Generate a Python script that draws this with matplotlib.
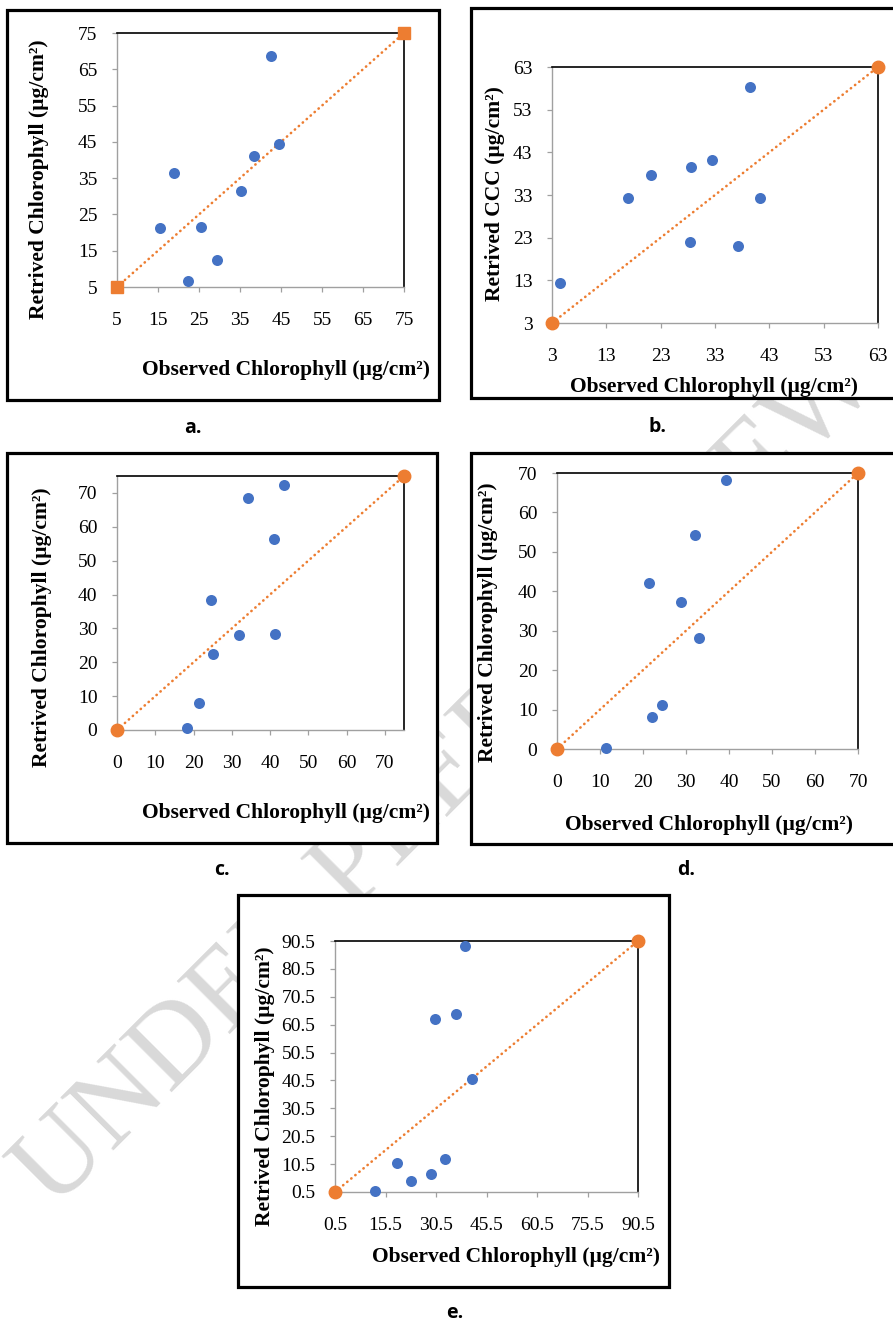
#!/usr/bin/env python3
"""Observed vs retrieved chlorophyll, five scatter panels (a-e) with 1:1 lines."""

import matplotlib

matplotlib.use("Agg")
import matplotlib.pyplot as plt
import numpy as np
from matplotlib.patches import Rectangle
from matplotlib.ticker import FuncFormatter

FIG_W, FIG_H = 893, 1325
DPI = 100

BLUE = "#4472C4"
ORANGE = "#ED7D31"
AXIS_GRAY = "#A0A0A0"
SERIF = "Liberation Serif"

# panel data (observed, retrieved)
A_OBS = [42.5, 44.6, 38.3, 19.0, 35.2, 15.4, 25.5, 29.3, 22.2]
A_RET = [68.6, 44.4, 41.2, 36.5, 31.5, 21.3, 21.6, 12.5, 6.6]
B_OBS = [39.4, 32.4, 28.5, 21.2, 17.0, 41.2, 28.4, 37.2, 4.5]
B_RET = [58.2, 41.1, 39.6, 37.8, 32.4, 32.4, 21.9, 21.1, 12.4]
C_OBS = [43.6, 34.3, 41.0, 24.5, 32.0, 41.2, 25.0, 21.3, 18.4]
C_RET = [72.3, 68.4, 56.4, 38.5, 28.1, 28.3, 22.4, 8.0, 0.5]
D_OBS = [39.4, 32.1, 21.4, 28.8, 33.1, 24.5, 22.2, 11.4]
D_RET = [68.2, 54.2, 42.1, 37.3, 28.1, 11.2, 8.2, 0.25]
E_OBS = [39.2, 36.4, 30.3, 41.3, 33.2, 18.9, 29.1, 23.1, 12.5]
E_RET = [88.6, 64.2, 62.5, 41.1, 12.5, 11.0, 7.1, 4.3, 0.7]

# 1:1 line end points
A_LINE = [5, 75]
B_LINE = [3, 63]
C_LINE = [0, 75]
D_LINE = [0, 70]
E_LINE = [0.5, 90.5]

A_TICKS = np.arange(5, 76, 10)
B_TICKS = np.arange(3, 64, 10)
C_TICKS = np.arange(0, 71, 10)
D_TICKS = np.arange(0, 71, 10)
E_XTICKS = np.arange(0.5, 91, 15)
E_YTICKS = np.arange(0.5, 91, 10)

XLABEL = "Observed Chlorophyll (µg/cm²)"
YLABEL = "Retrived Chlorophyll (µg/cm²)"
YLABEL_B = "Retrived CCC (µg/cm²)"

# layout in pixels: box (l, t, r, b), axes (l, t, r, b), ylabel centre, xlabel right/y, caption
PANELS = [
    dict(obs=A_OBS, ret=A_RET, line=A_LINE, xticks=A_TICKS, yticks=A_TICKS,
         lim=(5, 75), ylabel=YLABEL, end_marker="s",
         box=(7, 10, 439, 400), ax=(117, 33, 404, 287),
         ylab_xy=(39, 179), xlab_xy=(430, 370), cap="a.", cap_xy=(193, 428)),
    dict(obs=B_OBS, ret=B_RET, line=B_LINE, xticks=B_TICKS, yticks=B_TICKS,
         lim=(3, 63), ylabel=YLABEL_B, end_marker="o",
         box=(471, 8, 905, 398), ax=(552, 67, 878, 323),
         ylab_xy=(495, 194), xlab_xy=(858, 387), cap="b.", cap_xy=(657, 427)),
    dict(obs=C_OBS, ret=C_RET, line=C_LINE, xticks=C_TICKS, yticks=C_TICKS,
         lim=(0, 75), ylabel=YLABEL, end_marker="o",
         box=(7, 453, 437, 843), ax=(117, 476, 404, 730),
         ylab_xy=(42, 627), xlab_xy=(430, 813), cap="c.", cap_xy=(222, 870)),
    dict(obs=D_OBS, ret=D_RET, line=D_LINE, xticks=D_TICKS, yticks=D_TICKS,
         lim=(0, 70), ylabel=YLABEL, end_marker="o",
         box=(471, 453, 905, 844), ax=(557, 473, 858, 749),
         ylab_xy=(488, 622), xlab_xy=(853, 825), cap="d.", cap_xy=(686, 870)),
    dict(obs=E_OBS, ret=E_RET, line=E_LINE, xticks=E_XTICKS, yticks=E_YTICKS,
         lim=(0.5, 90.5), ylabel=YLABEL, end_marker="o",
         box=(238, 895, 669, 1287), ax=(335, 941, 638, 1192),
         ylab_xy=(265, 1086), xlab_xy=(660, 1257), cap="e.", cap_xy=(455, 1313)),
]


def fx(px):
    return px / FIG_W


def fy(py):
    return 1 - py / FIG_H


def draw_background(fig):
    # full-figure pixel canvas: watermark first, white framed boxes on top of it
    bg = fig.add_axes([0, 0, 1, 1], zorder=-10)
    bg.set_xlim(0, FIG_W)
    bg.set_ylim(FIG_H, 0)
    bg.axis("off")
    bg.text(448, 777, "UNDER PEER REVIEW", rotation=45, rotation_mode="anchor",
            ha="center", va="center", fontsize=82, color="#D9D9D9", family=SERIF, zorder=1)
    for p in PANELS:
        l, t, r, b = p["box"]
        bg.add_patch(Rectangle((l, t), r - l, b - t, facecolor="white", edgecolor="black",
                               linewidth=2.3, zorder=2, clip_on=False))
    return bg


def draw_panel(fig, p):
    l, t, r, b = p["ax"]
    ax = fig.add_axes([fx(l), fy(b), fx(r) - fx(l), fy(t) - fy(b)])
    ax.patch.set_alpha(0)

    lo, hi = p["lim"]
    ax.set_xlim(lo, hi)
    ax.set_ylim(lo, hi)
    ax.set_xticks(p["xticks"])
    ax.set_yticks(p["yticks"])
    fmt = FuncFormatter(lambda v, _: f"{v:g}")
    ax.xaxis.set_major_formatter(fmt)
    ax.yaxis.set_major_formatter(fmt)
    for lab in ax.get_xticklabels() + ax.get_yticklabels():
        lab.set_fontfamily(SERIF)
        lab.set_fontsize(14)
    ax.tick_params(axis="x", direction="out", length=3.6, width=0.9, color=AXIS_GRAY, pad=14.5)
    ax.tick_params(axis="y", direction="out", length=3.6, width=0.9, color=AXIS_GRAY, pad=10.5)

    for side in ("left", "bottom"):
        ax.spines[side].set_color(AXIS_GRAY)
        ax.spines[side].set_linewidth(1.0)
    for side in ("top", "right"):
        ax.spines[side].set_color("black")
        ax.spines[side].set_linewidth(1.2)

    ax.plot(p["line"], p["line"], color=ORANGE, linewidth=1.9, linestyle=(0, (0.1, 1.9)),
            dash_capstyle="round", zorder=2, clip_on=False)
    ms = 8.4 if p["end_marker"] == "s" else 9.0
    ax.plot(p["line"], p["line"], linestyle="none", marker=p["end_marker"], markersize=ms,
            color=ORANGE, zorder=4, clip_on=False)
    ax.scatter(p["obs"], p["ret"], s=63, color=BLUE, linewidths=0, zorder=3, clip_on=False)

    fig.text(fx(p["ylab_xy"][0]), fy(p["ylab_xy"][1]), p["ylabel"], rotation=90,
             ha="center", va="center", fontsize=15.5, fontweight="bold", family=SERIF)
    fig.text(fx(p["xlab_xy"][0]), fy(p["xlab_xy"][1]), XLABEL,
             ha="right", va="center", fontsize=15.5, fontweight="bold", family=SERIF)
    fig.text(fx(p["cap_xy"][0]), fy(p["cap_xy"][1]), p["cap"],
             ha="center", va="center", fontsize=14, fontweight="bold", family="Open Sans")


def main():
    fig = plt.figure(figsize=(FIG_W / DPI, FIG_H / DPI), dpi=DPI)
    draw_background(fig)
    for p in PANELS:
        draw_panel(fig, p)
    fig.savefig("out.png", dpi=DPI)
    plt.close(fig)


if __name__ == "__main__":
    main()
